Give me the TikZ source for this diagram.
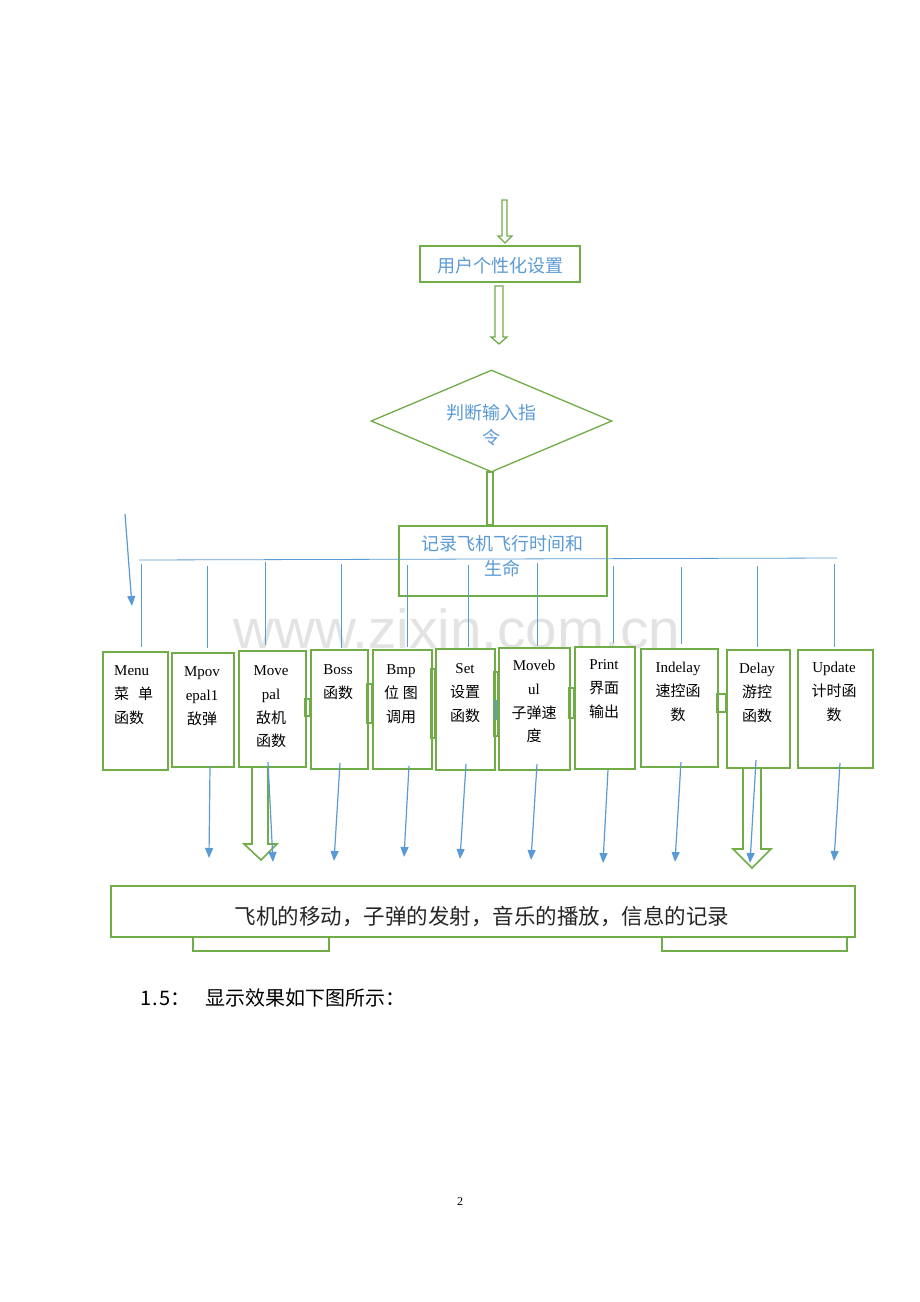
\documentclass[tikz,border=0pt]{standalone}
\usepackage{fontspec}
\usepackage{graphicx}
\setmainfont{Liberation Serif}
\newfontfamily\cjk{Noto Sans CJK SC}
\newfontfamily\wmfont{Liberation Sans}
\usetikzlibrary{arrows.meta,shapes.geometric}
\definecolor{fgreen}{RGB}{112,173,71}
\definecolor{fblue}{RGB}{91,155,213}
\begin{document}
\begin{tikzpicture}[x=1pt,y=-1pt,
  gline/.style={draw=fgreen,line width=1.6pt},
  gbox/.style={draw=fgreen,line width=1.6pt,inner sep=0pt,anchor=north west},
  bline/.style={draw=fblue,line width=0.8pt},
  barrow/.style={draw=fblue,line width=1.2pt,-{Triangle[width=8pt,length=10pt]}},
  btxt/.style={anchor=base,align=center,inner sep=0pt,font=\fontsize{15}{23.8}\selectfont},
  ctxt/.style={anchor=base,align=center,inner sep=0pt,text=fblue,font=\cjk\fontsize{18}{25}\selectfont}]
\useasboundingbox (0,0) rectangle (920,1302);
\fill[white] (0,0) rectangle (920,1302);
% watermark
\node[anchor=base west,inner sep=0pt,text=black!11,font=\wmfont\fontsize{55}{55}\selectfont] (wm) at (233,648) {\scalebox{1.03}[1]{www.zixin.com.cn}};
% hollow arrows
\draw[gline,line width=1.3pt,fill=white] (502,200) -- (507,200) -- (507,236) -- (512,236) -- (505,243) -- (498,236) -- (502,236) -- cycle;
\draw[gline,line width=1.3pt,fill=white] (495,286) -- (503,286) -- (503,337) -- (507,337) -- (499,344) -- (491,337) -- (495,337) -- cycle;
\draw[gline,fill=white] (487,472) rectangle (493,525);
\draw[gline,fill=white] (252,766) -- (252,844) -- (244,844) -- (261,860) -- (277,844) -- (268,844) -- (268,766);
\draw[gline,fill=white] (743,767) -- (743,849) -- (733,849) -- (752,868) -- (771,849) -- (761,849) -- (761,767);
% top nodes
\node[gbox,anchor=center,minimum width=160pt,minimum height=36pt] (user) at (500,264) {};
\node[ctxt] (usert) at (500,272) {\cjk 用户个性化设置};
\node[draw=fgreen,line width=1.3pt,diamond,aspect=2.36,minimum width=241pt,minimum height=102pt,inner sep=0pt] (judge) at (491.5,421) {};
\node[ctxt] (judget) at (491,444) {判断输入指\\令};
\node[gbox,minimum width=208pt,minimum height=70pt] (rec) at (398,525) {};
\node[ctxt] (rect) at (502,575) {记录飞机飞行时间和\\生命};
% bar
\coordinate (barL) at (139,560);
\coordinate (barR) at (837,558);
\draw[bline] (barL) -- (barR);
\coordinate (mA) at (125,514);
\coordinate (mB) at (132,606);
\draw[barrow] (mA) -- (mB);
% function boxes
\node[gbox,minimum width=65pt,minimum height=118pt] (menu) at (102,651) {};
\node[gbox,minimum width=62pt,minimum height=114pt] (mpov) at (171,652) {};
\node[gbox,minimum width=67pt,minimum height=116pt] (movepal) at (238,650) {};
\node[gbox,minimum width=57pt,minimum height=119pt] (boss) at (310,649) {};
\node[gbox,minimum width=59pt,minimum height=119pt] (bmp) at (372,649) {};
\node[gbox,minimum width=59pt,minimum height=121pt] (set) at (435,648) {};
\node[gbox,minimum width=71pt,minimum height=122pt] (movebul) at (498,647) {};
\node[gbox,minimum width=60pt,minimum height=122pt] (print) at (574,646) {};
\node[gbox,minimum width=77pt,minimum height=118pt] (indelay) at (640,648) {};
\node[gbox,minimum width=63pt,minimum height=118pt] (delay) at (726,649) {};
\node[gbox,minimum width=75pt,minimum height=118pt] (update) at (797,649) {};
% small joins between boxes
\draw[gline,line width=1.3pt] (305,699) rectangle (310,716);
\draw[gline,line width=1.3pt] (367,684) rectangle (372,723);
\draw[gline,line width=1.3pt] (431,669) rectangle (435,738);
\draw[gline,line width=1.3pt] (494,672) rectangle (498,736);
\draw[gline,line width=1.3pt] (569,688) rectangle (574,718);
\draw[gline,line width=1.3pt] (717,694) rectangle (726,712);
\draw[draw=fblue,line width=1.5pt] (496,700) -- (496,720);
% box texts (base anchor = baseline of last line)
\node[btxt,anchor=base west,align=left] (menut) at (114,723.1) {Menu\\{\cjk 菜\hspace{9pt}单}\\{\cjk 函数}};
\node[btxt] (mpovt) at (202,724.1) {Mpov\\epal1\\{\cjk 敌弹}};
\node[btxt] (movepalt) at (271,746.9) {Move\\pal\\{\cjk 敌机}\\{\cjk 函数}};
\node[btxt] (bosst) at (338,698.3) {Boss\\{\cjk 函数}};
\node[btxt] (bmpt) at (401,722.1) {Bmp\\{\cjk 位\hspace{4pt}图}\\{\cjk 调用}};
\node[btxt] (sett) at (465,721.1) {Set\\{\cjk 设置}\\{\cjk 函数}};
\node[btxt] (movebult) at (534,741.9) {Moveb\\ul\\{\cjk 子弹速}\\{\cjk 度}};
\node[btxt] (printt) at (604,717.1) {Print\\{\cjk 界面}\\{\cjk 输出}};
\node[btxt] (indelayt) at (678,720.1) {Indelay\\{\cjk 速控函}\\{\cjk 数}};
\node[btxt] (delayt) at (757,721.1) {Delay\\{\cjk 游控}\\{\cjk 函数}};
\node[btxt] (updatet) at (834,720.1) {Update\\{\cjk 计时函}\\{\cjk 数}};
% vertical lines from bar
\foreach \i/\x/\ya/\yb in {1/141/564/647,2/207/566/648,3/265/562/645,4/341/564/648,5/407/565/647,6/468/565/647,7/537/563/646,8/613/566/643,9/681/567/644,10/757/566/647,11/834/564/647}{
  \coordinate (vt\i) at (\x,\ya);
  \coordinate (vb\i) at (\x,\yb);
  \draw[bline] (vt\i) -- (vb\i);
}
% arrows down
\foreach \i/\xa/\ya/\xb/\yb in {1/210/766/209/858,2/268/762/273/862,3/340/763/334/861,4/409/766/404/857,5/466/764/460/859,6/537/764/531/860,7/608/770/603/863,8/681/762/675/862,9/756/760/750/863,10/840/763/834/861}{
  \coordinate (da\i) at (\xa,\ya);
  \coordinate (db\i) at (\xb,\yb);
  \draw[barrow] (da\i) -- (db\i);
}
% bottom box
\node[gbox,minimum width=744pt,minimum height=51pt] (result) at (110,885) {};
\node[anchor=base,inner sep=0pt,font=\cjk\fontsize{21.5}{22}\selectfont,text=black!85] (resultt) at (482,924) {飞机的移动，子弹的发射，音乐的播放，信息的记录};
\coordinate (k1a) at (193,936);
\coordinate (k1b) at (329,951);
\draw[gline,line width=1.3pt] (k1a) |- (k1b) -- (k1b |- k1a);
\coordinate (k2a) at (662,936);
\coordinate (k2b) at (847,951);
\draw[gline,line width=1.3pt] (k2a) |- (k2b) -- (k2b |- k2a);
% caption
\node[anchor=base west,inner sep=0pt,font=\cjk\fontsize{20}{20}\selectfont] (sec) at (140,1005) {1\hspace{1.5pt}.\hspace{1.5pt}5：};
\node[anchor=base west,inner sep=0pt,font=\cjk\fontsize{20}{20}\selectfont] (sect) at (205,1005) {显示效果如下图所示：};
\node[anchor=base,inner sep=0pt,font=\fontsize{12}{12}\selectfont] (pg) at (460,1205) {2};
\end{tikzpicture}
\end{document}
